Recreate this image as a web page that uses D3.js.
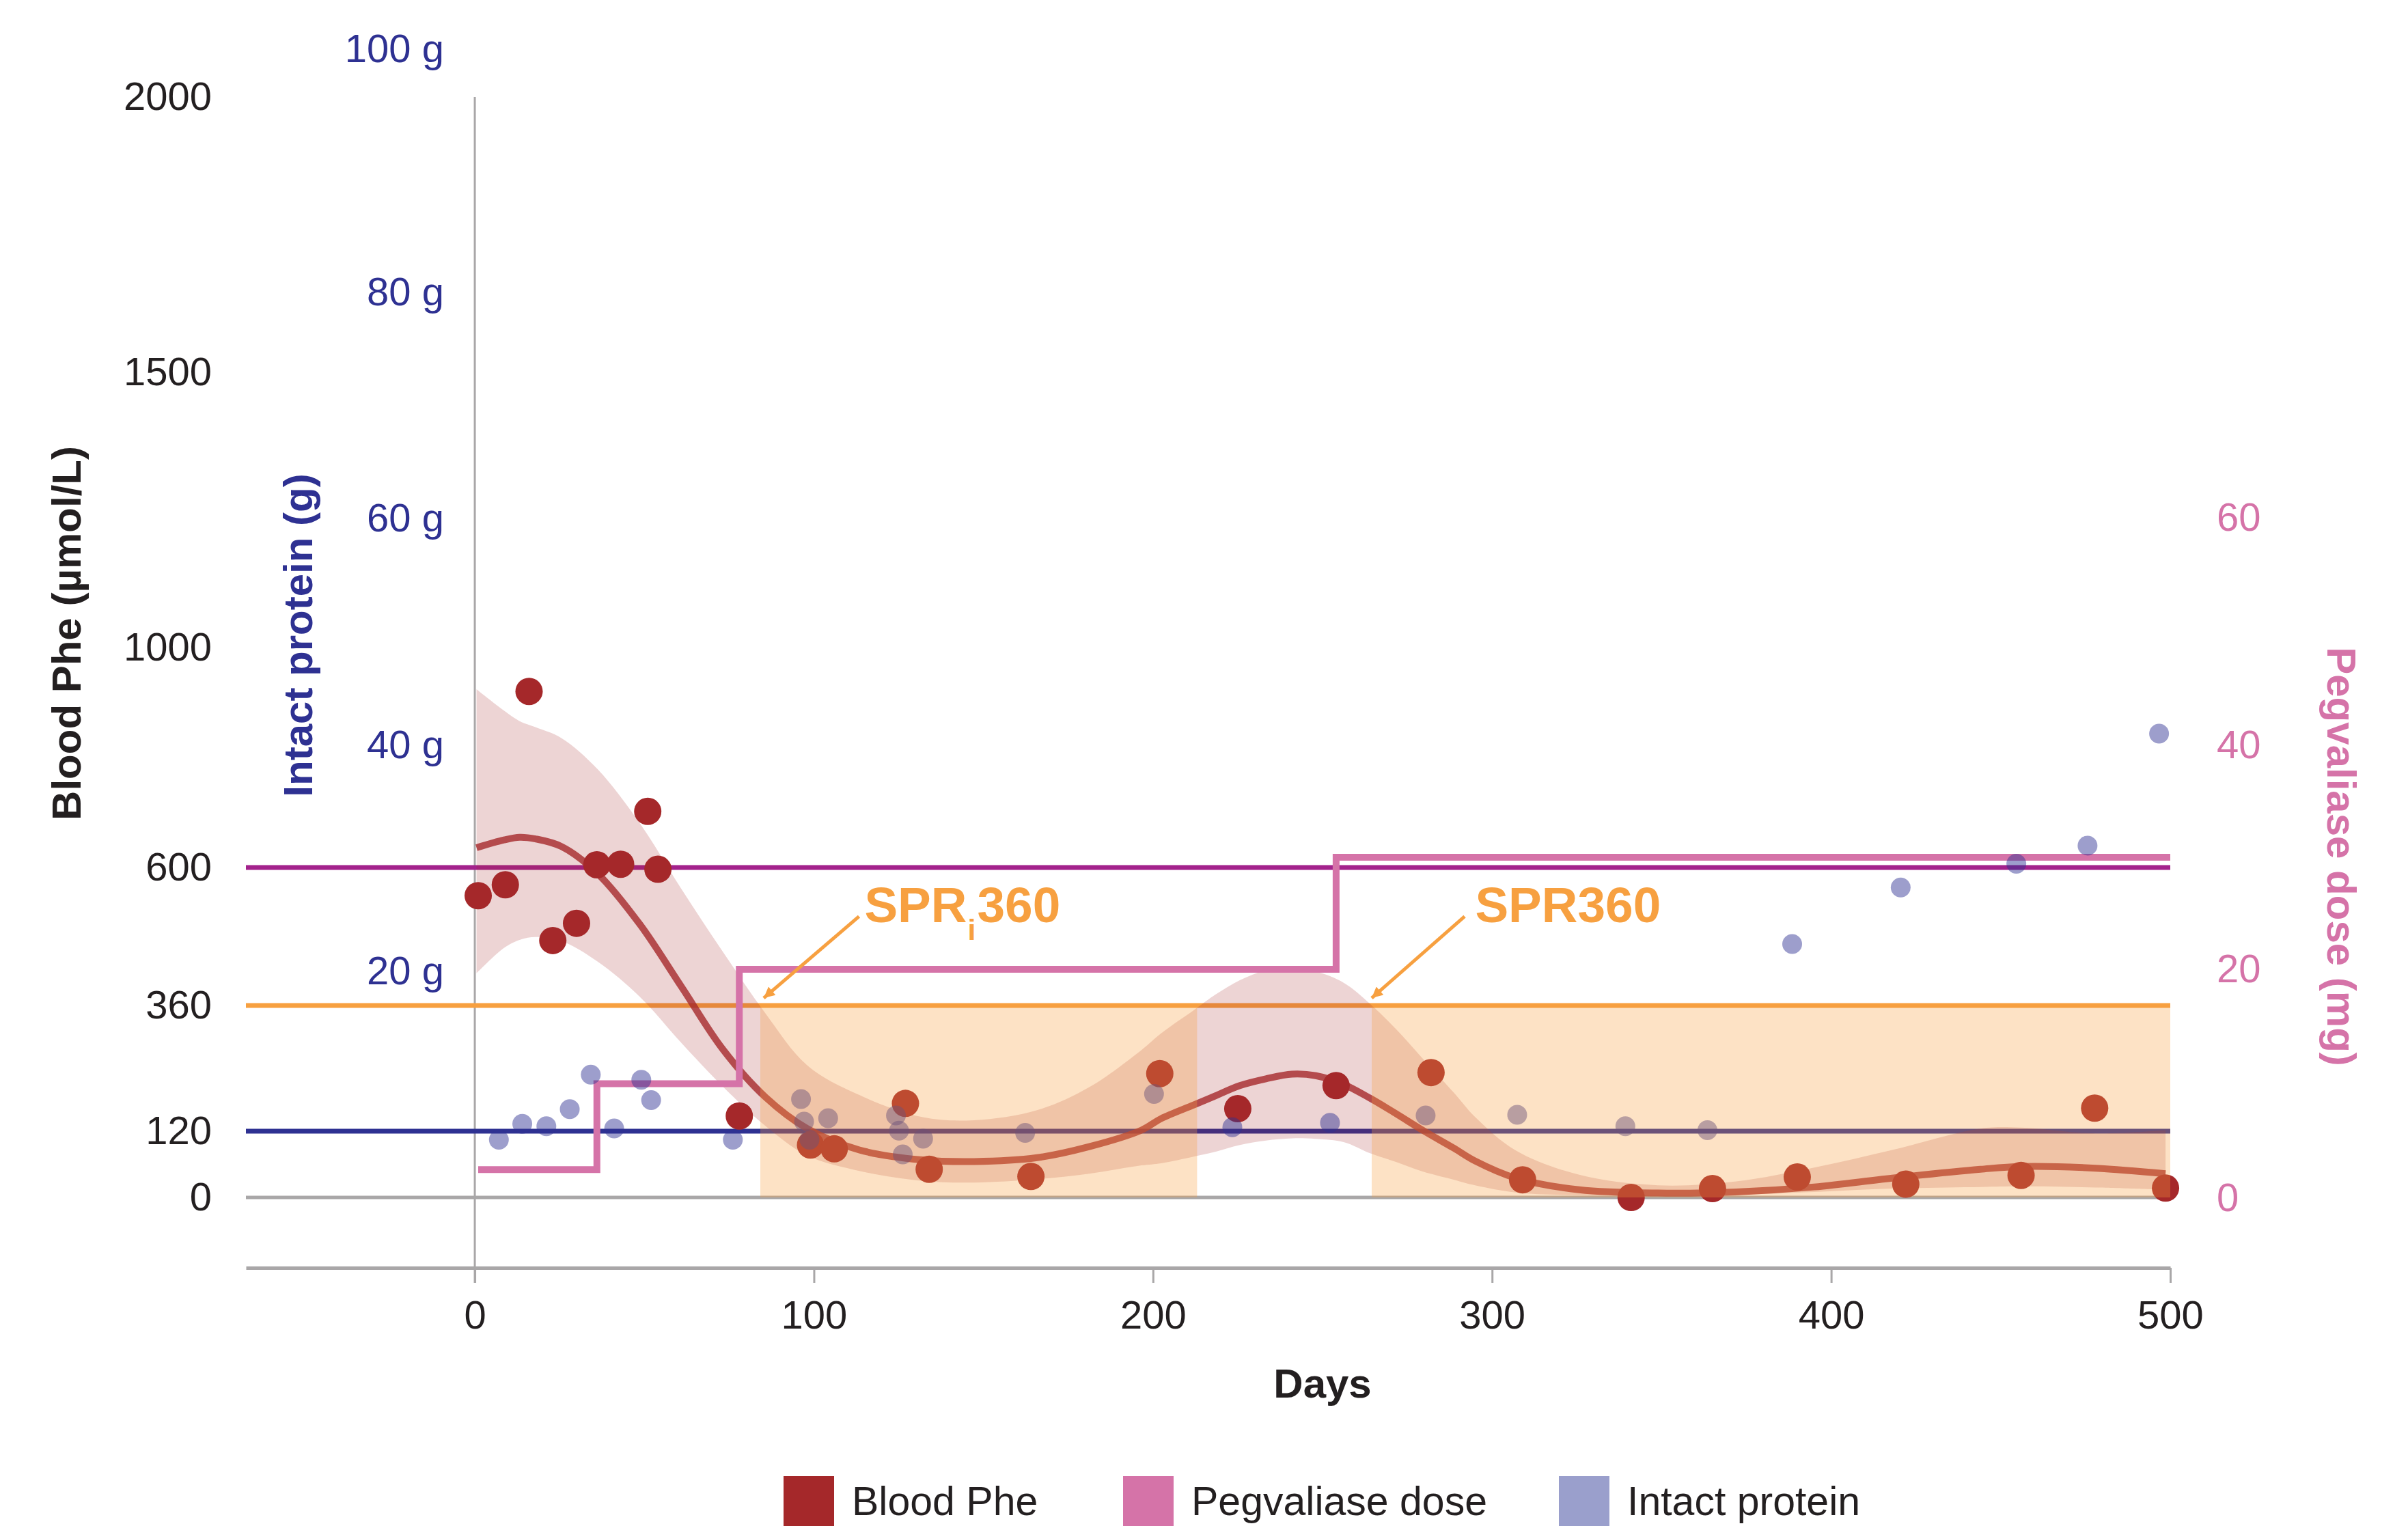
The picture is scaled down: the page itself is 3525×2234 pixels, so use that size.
<!DOCTYPE html>
<html>
<head>
<meta charset="utf-8">
<title>Blood Phe, pegvaliase dose and intact protein</title>
<script src="https://cdn.jsdelivr.net/npm/d3@7.9.0/dist/d3.min.js"></script>
<style>
  html, body { margin: 0; padding: 0; background: #fff; }
  svg { display: block; }
</style>
</head>
<body>
<div id="chart"></div>
<script>
// values
// blood Phe measurements: [day, µmol/L]
const phePoints = [
  [1, 551], [9, 570], [16, 920], [23, 473], [30, 503], [36, 605], [43, 606],
  [51, 702], [54, 597], [78, 149], [99, 95], [106, 88], [127, 173], [134, 51],
  [164, 38], [202, 230], [225, 163], [254, 207], [282, 232], [309, 32],
  [341, 0], [365, 16], [390, 37], [422, 24], [456, 40], [477.7, 164], [498.6, 17]
];

// intact protein intake: [day, g]
const proteinPoints = [
  [7.1, 5.1], [14, 6.5], [21.1, 6.3], [28, 7.8], [34.2, 10.85], [41.1, 6.1],
  [49.1, 10.4], [52, 8.6], [76.1, 5.1], [96.2, 8.7], [97.1, 6.7], [98.7, 5.1],
  [104.2, 7.0], [124.2, 7.25], [125.1, 5.9], [126.2, 3.8], [132.2, 5.2],
  [162.3, 5.7], [200.3, 9.15], [223.4, 6.2], [252.2, 6.6], [280.4, 7.25],
  [307.4, 7.3], [339.3, 6.3], [363.5, 5.95], [388.5, 22.4], [420.5, 27.4],
  [454.6, 29.5], [475.6, 31.1], [496.7, 41.0]
];

// pegvaliase dose changes: [day, mg]
const doseSteps = [[1, 2.5], [36, 10], [78, 20], [254, 30], [500, 30]];

// smoothed blood Phe: [day, fit, lower, upper]
const pheFit = [
  [0.5, 636, 416, 924], [8.6, 650, 460, 885], [13.2, 655, 474, 866],
  [17.9, 652, 479, 855], [25.6, 638, 472, 835], [36.3, 589, 436, 778],
  [48.7, 501, 375, 680], [61, 392, 288, 562], [73.3, 275, 204, 452],
  [85.7, 185, 130, 345], [98, 125, 76, 246], [113.4, 86, 48, 189],
  [131.9, 68, 30, 147], [147.3, 65, 27, 141], [165.8, 72, 33, 160],
  [181.2, 92, 43, 204], [196.6, 122, 58, 275], [202.4, 144, 62, 307],
  [212, 170, 74, 351], [217.9, 186, 82, 377], [225.6, 207, 95, 404],
  [233.3, 220, 103, 421], [241, 229, 107, 424], [248, 226, 106, 419],
  [256.4, 209, 100, 399], [264, 183, 80, 363], [271.8, 153, 64, 314],
  [279.5, 122, 47, 259], [288.8, 89, 32, 193], [295, 66, 22, 147],
  [307, 35, 9, 85], [325.7, 14, 4, 41], [348.9, 8, 3, 22], [372, 10, 5, 29],
  [395, 19, 10, 54], [418, 35, 16, 86], [444, 51, 19, 125], [456, 56, 20, 127],
  [478, 53, 18, 116], [498.6, 43, 14, 122]
];

// SPR 360 periods: [start day, end day]
const sprPeriods = [[84.2, 213], [264.5, 500]];
const sprLimit = 360;

const thresholds = [600, 360, 120];

const pheTicks = [0, 120, 360, 600, 1000, 1500, 2000];
const proteinTicks = [20, 40, 60, 80, 100];
const doseTicks = [0, 20, 40, 60];
const dayTicks = [0, 100, 200, 300, 400, 500];

const legendLabels = ['Blood Phe', 'Pegvaliase dose', 'Intact protein'];

function renderChart() {
  const width = 3525;
  const height = 2234;

  const red = '#a5282a';
  const pink = '#d573a8';
  const navy = '#2e3192';
  const orange = '#f7a040';
  const grey = '#a9a7a8';
  const ink = '#231f20';
  const thresholdColor = { 600: '#a3228c', 360: orange, 120: navy };
  const legendColor = [red, pink, '#9a9fcc'];

  const svg = d3
    .select('#chart')
    .append('svg')
    .attr('width', width)
    .attr('height', height)
    .attr('viewBox', `0 0 ${width} ${height}`)
    .attr('font-family', "'Liberation Sans', Arial, Helvetica, sans-serif");

  svg.append('rect').attr('width', width).attr('height', height).attr('fill', '#fff');

  // the printed Phe axis is not evenly spaced, so the scale is piecewise
  const x = d3.scaleLinear().domain([-67.5, 500]).range([360, 3177]);
  const y = d3.scaleLinear()
    .domain([-128, 0, 120, 360, 600, 2000])
    .range([1856, 1753, 1656, 1472, 1270, 142]);
  const yProtein = d3.scaleLinear().domain([0, 80, 100]).range([1753, 428, 72]);
  const yDose = d3.scaleLinear().domain([0, 20, 40, 60]).range([1754, 1419, 1091, 758]);

  const [x0, x1] = x.range();

  // vertical axis at day 0
  svg.append('line')
    .attr('x1', x(0)).attr('x2', x(0))
    .attr('y1', y(2000)).attr('y2', y(-128) + 22)
    .attr('stroke', grey).attr('stroke-width', 3);

  // x axis
  const xAxis = svg.append('g')
    .attr('transform', `translate(0, ${y(-128)})`)
    .call(d3.axisBottom(x).tickValues(dayTicks).tickSize(22).tickSizeOuter(0).tickPadding(26));
  xAxis.select('.domain').attr('stroke', grey).attr('stroke-width', 5);
  xAxis.selectAll('.tick line').attr('stroke', grey).attr('stroke-width', 3);
  xAxis.selectAll('text').attr('font-size', 58).attr('fill', ink);
  xAxis.attr('font-family', null);

  // zero line
  svg.append('line')
    .attr('x1', x0).attr('x2', x1)
    .attr('y1', y(0)).attr('y2', y(0))
    .attr('stroke', grey).attr('stroke-width', 5);

  // threshold lines
  svg.append('g')
    .selectAll('line')
    .data(thresholds)
    .join('line')
    .attr('x1', x0).attr('x2', x1)
    .attr('y1', d => y(d)).attr('y2', d => y(d))
    .attr('stroke', d => thresholdColor[d])
    .attr('stroke-width', 7);

  // confidence ribbon
  const ribbon = d3.area()
    .x(d => x(d[0]))
    .y0(d => y(d[2]))
    .y1(d => y(d[3]))
    .curve(d3.curveCatmullRom);
  svg.append('path')
    .datum(pheFit)
    .attr('d', ribbon)
    .attr('fill', red)
    .attr('fill-opacity', 0.2);

  // smooth
  const fitLine = d3.line()
    .x(d => x(d[0]))
    .y(d => y(d[1]))
    .curve(d3.curveCatmullRom);
  svg.append('path')
    .datum(pheFit)
    .attr('d', fitLine)
    .attr('fill', 'none')
    .attr('stroke', red)
    .attr('stroke-opacity', 0.8)
    .attr('stroke-width', 10);

  // blood Phe points
  svg.append('g')
    .selectAll('circle')
    .data(phePoints)
    .join('circle')
    .attr('cx', d => x(d[0]))
    .attr('cy', d => y(d[1]))
    .attr('r', 20)
    .attr('fill', red);

  // dose step line
  const doseLine = d3.line()
    .x(d => x(d[0]))
    .y(d => yDose(d[1]))
    .curve(d3.curveStepAfter);
  svg.append('path')
    .datum(doseSteps)
    .attr('d', doseLine)
    .attr('fill', 'none')
    .attr('stroke', pink)
    .attr('stroke-width', 10)
    .attr('stroke-linejoin', 'miter');

  // intact protein points
  svg.append('g')
    .selectAll('circle')
    .data(proteinPoints)
    .join('circle')
    .attr('cx', d => x(d[0]))
    .attr('cy', d => yProtein(d[1]))
    .attr('r', 14.5)
    .attr('fill', navy)
    .attr('fill-opacity', 0.47);

  // SPR periods
  svg.append('g')
    .selectAll('rect')
    .data(sprPeriods)
    .join('rect')
    .attr('x', d => x(d[0]))
    .attr('width', d => x(d[1]) - x(d[0]))
    .attr('y', y(sprLimit))
    .attr('height', y(0) - y(sprLimit))
    .attr('fill', orange)
    .attr('fill-opacity', 0.3);

  // annotations
  svg.append('defs')
    .append('marker')
    .attr('id', 'arrow')
    .attr('viewBox', '0 0 10 10')
    .attr('refX', 10).attr('refY', 5)
    .attr('markerWidth', 24).attr('markerHeight', 16)
    .attr('markerUnits', 'userSpaceOnUse')
    .attr('orient', 'auto')
    .append('path')
    .attr('d', 'M0,0L10,5L0,10z')
    .attr('fill', orange);

  const notes = [
    { day: 114.9, phe: 505, from: [113.3, 515], to: [sprPeriods[0][0] + 1, 373], sub: true },
    { day: 295, phe: 505, from: [291.9, 515], to: [sprPeriods[1][0], 373], sub: false },
  ];
  notes.forEach(n => {
    svg.append('line')
      .attr('x1', x(n.from[0])).attr('y1', y(n.from[1]))
      .attr('x2', x(n.to[0])).attr('y2', y(n.to[1]))
      .attr('stroke', orange).attr('stroke-width', 5)
      .attr('marker-end', 'url(#arrow)');
    const t = svg.append('text')
      .attr('x', x(n.day)).attr('y', y(n.phe))
      .attr('font-size', 73).attr('font-weight', 'bold').attr('fill', orange);
    if (n.sub) {
      t.append('tspan').text('SPR');
      t.append('tspan').text('i').attr('font-size', 43).attr('dx', 1).attr('dy', 26);
      t.append('tspan').text('360').attr('dx', 2).attr('dy', -26);
    } else {
      t.text('SPR360');
    }
  });

  // left axis: blood Phe
  const pheAxis = svg.append('g')
    .attr('transform', 'translate(310, 0)')
    .call(d3.axisLeft(y).tickValues(pheTicks).tickSize(0).tickPadding(0)
      .tickFormat(d3.format('d')));
  pheAxis.select('.domain').remove();
  pheAxis.attr('font-family', null);
  pheAxis.selectAll('text').attr('font-size', 58).attr('fill', ink);

  // intact protein axis
  const protAxis = svg.append('g')
    .attr('transform', 'translate(650, 0)')
    .call(d3.axisLeft(yProtein).tickValues(proteinTicks).tickSize(0).tickPadding(0)
      .tickFormat(d => d + ' g'));
  protAxis.select('.domain').remove();
  protAxis.attr('font-family', null);
  protAxis.selectAll('text').attr('font-size', 58).attr('fill', navy);

  // dose axis
  const doseAxis = svg.append('g')
    .attr('transform', 'translate(3245, 0)')
    .call(d3.axisRight(yDose).tickValues(doseTicks).tickSize(0).tickPadding(0)
      .tickFormat(d3.format('d')));
  doseAxis.select('.domain').remove();
  doseAxis.attr('font-family', null);
  doseAxis.selectAll('text').attr('font-size', 58).attr('fill', pink);

  // axis titles
  svg.append('text')
    .attr('transform', 'translate(118, 927) rotate(-90)')
    .attr('text-anchor', 'middle')
    .attr('font-size', 60).attr('font-weight', 'bold').attr('fill', ink)
    .text('Blood Phe (µmol/L)');

  svg.append('text')
    .attr('transform', 'translate(457, 930) rotate(-90)')
    .attr('text-anchor', 'middle')
    .attr('font-size', 60).attr('font-weight', 'bold').attr('fill', navy)
    .text('Intact protein (g)');

  svg.append('text')
    .attr('transform', 'translate(3407, 1254) rotate(90)')
    .attr('text-anchor', 'middle')
    .attr('font-size', 60).attr('font-weight', 'bold').attr('fill', pink)
    .text('Pegvaliase dose (mg)');

  svg.append('text')
    .attr('x', (x(0) + x(500)) / 2).attr('y', 2046)
    .attr('text-anchor', 'middle')
    .attr('font-size', 60).attr('font-weight', 'bold').attr('fill', ink)
    .text('Days');

  // legend
  const legendX = [1147, 1644, 2282];
  const legend = svg.append('g')
    .selectAll('g')
    .data(legendLabels)
    .join('g')
    .attr('transform', (d, i) => `translate(${legendX[i]}, 2161)`);
  legend.append('rect')
    .attr('width', 74).attr('height', 74)
    .attr('fill', (d, i) => legendColor[i]);
  legend.append('text')
    .attr('x', 100).attr('y', 57)
    .attr('font-size', 59).attr('fill', ink)
    .text(d => d);
}

renderChart();
</script>
</body>
</html>
